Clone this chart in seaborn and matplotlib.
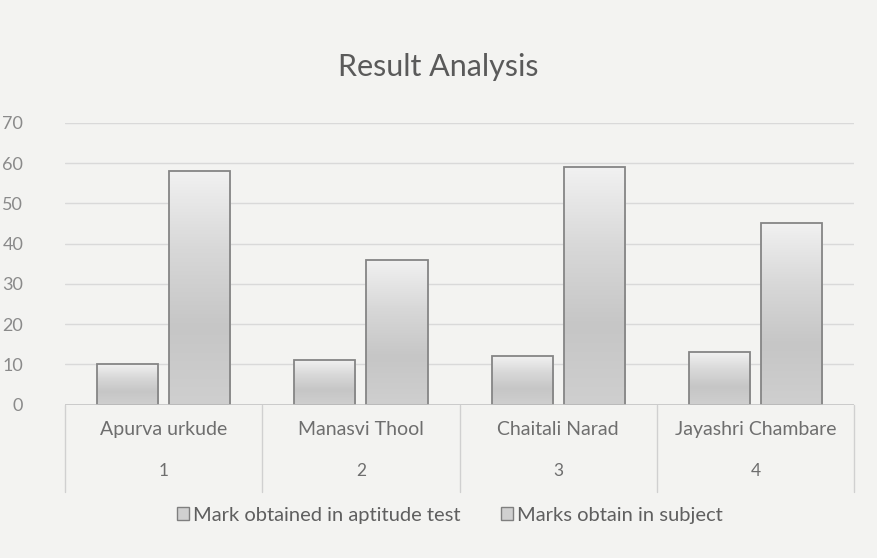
import numpy as np
import pandas as pd
import matplotlib
matplotlib.use("Agg")
import matplotlib.pyplot as plt
import matplotlib.transforms as mtransforms
from matplotlib.colors import LinearSegmentedColormap
from matplotlib.patches import Patch
import seaborn as sns

# data
students = ["Apurva urkude", "Manasvi Thool", "Chaitali Narad", "Jayashri Chambare"]
roll_no = ["1", "2", "3", "4"]
aptitude = [10, 11, 12, 13]
subject = [58, 36, 59, 45]
series_names = ["Mark obtained in aptitude test", "Marks obtain in subject"]
y_ticks = [0, 10, 20, 30, 40, 50, 60, 70]

df = pd.DataFrame({
    "student": students * 2,
    "marks": aptitude + subject,
    "series": [series_names[0]] * len(students) + [series_names[1]] * len(students),
})

sns.set_style("white")
plt.rcParams["font.family"] = ["Lato", "DejaVu Sans"]

bg = "#f3f3f1"
fig = plt.figure(figsize=(8.77, 5.58), dpi=100, facecolor=bg)
ax = fig.add_axes([0.074, 0.275, 0.90, 0.505])
ax.set_facecolor(bg)

sns.barplot(data=df, x="student", y="marks", hue="series",
            palette=["#d8d8d8", "#d8d8d8"], width=0.73, gap=0.15,
            edgecolor="#858585", linewidth=1.3, legend=False, ax=ax, zorder=3)

# grey gradient fill for each bar
grad_cmap = LinearSegmentedColormap.from_list("bar", ["#cfcfcf", "#c6c6c6", "#d8d8d8", "#f1f1f1"])
grad = np.linspace(0, 1, 256).reshape(-1, 1)
for bar in list(ax.patches):
    x0, y0 = bar.get_x(), bar.get_y()
    w, h = bar.get_width(), bar.get_height()
    im = ax.imshow(grad, extent=[x0, x0 + w, y0, y0 + h], origin="lower",
                   cmap=grad_cmap, aspect="auto", zorder=2)
    im.set_clip_path(bar)
    bar.set_facecolor("none")

ax.set_xlim(-0.5, 3.5)
ax.set_ylim(0, 70)
ax.set_yticks(y_ticks)
ax.set_yticklabels([str(t) for t in y_ticks], color="#8a8a8a", fontsize=13)
ax.tick_params(axis="y", length=0, pad=30)
ax.set_xticks([])
ax.set_xlabel("")
ax.set_ylabel("")
for t in y_ticks[1:]:
    ax.axhline(t, color="#d9d9d9", lw=1, zorder=1)
ax.axhline(0, color="#c4c4c4", lw=1.2, zorder=4)
sns.despine(ax=ax, left=True, bottom=True)

# two-level category axis drawn as a small table
trans = mtransforms.blended_transform_factory(ax.transData, ax.transAxes)
for xb in [-0.5, 0.5, 1.5, 2.5, 3.5]:
    ax.plot([xb, xb], [0, -0.31], transform=trans, color="#d0d0d0", lw=1, clip_on=False)
for i, (name, num) in enumerate(zip(students, roll_no)):
    ax.text(i, -0.09, name, transform=trans, ha="center", va="center",
            fontsize=14, color="#6e6e6e")
    ax.text(i, -0.235, num, transform=trans, ha="center", va="center",
            fontsize=12.5, color="#6e6e6e")

fig.text(0.5, 1 - 67 / 558, "Result Analysis", ha="center", va="center",
         fontsize=22, color="#5a5a5a")

handles = [Patch(facecolor="#d0d0d0", edgecolor="#7f7f7f", label=s) for s in series_names]
leg = fig.legend(handles=handles, loc="center", bbox_to_anchor=(450 / 877, 1 - 515 / 558),
                 ncol=2, frameon=False, fontsize=14.5, handlelength=0.6,
                 handleheight=0.6, handletextpad=0.2, columnspacing=2.0)
for txt in leg.get_texts():
    txt.set_color("#5f5f5f")

fig.savefig("out.png", dpi=100, facecolor=bg)
